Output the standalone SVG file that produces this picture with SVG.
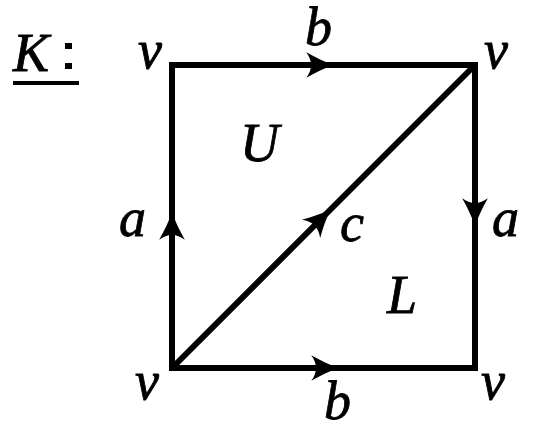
<svg xmlns="http://www.w3.org/2000/svg" width="545" height="439" viewBox="0 0 545 439">
<style>
.lbl{font-family:"Liberation Serif","Times New Roman",serif;font-style:italic;font-size:54px;fill:#000;stroke:#000;stroke-width:0.8}
.edge{fill:none;stroke:#000;stroke-width:6;stroke-linecap:square}
.diag{fill:none;stroke:#000;stroke-width:6;stroke-linecap:butt}
</style>
<defs>
<marker id="ah" markerUnits="userSpaceOnUse" markerWidth="30" markerHeight="30" viewBox="-26 -13 28 26" refX="0" refY="0" orient="auto" overflow="visible">
<path d="M1 0 C-8 -3 -16 -7 -25 -12 C-19 -4 -19 4 -25 12 C-16 7 -8 3 1 0 Z" fill="#000"/>
</marker>
</defs>
<rect width="545" height="439" fill="#fff"/>
<g id="title">
<text class="lbl" x="13" y="71">K</text>
<rect x="65" y="43" width="7" height="6" fill="#000"/>
<rect x="65" y="63" width="7" height="6" fill="#000"/>
<rect x="13" y="81" width="66" height="4" fill="#000"/>
</g>
<g id="connectors">
<path id="edge-a-left" class="edge" d="M172 368 L172 213 L172 65" marker-mid="url(#ah)"/>
<path id="edge-b-top" class="edge" d="M172 65 L333 65 L475 65" marker-mid="url(#ah)"/>
<path id="edge-a-right" class="edge" d="M475 65 L475 225 L475 368" marker-mid="url(#ah)"/>
<path id="edge-b-bottom" class="edge" d="M172 368 L338 368 L475 368" marker-mid="url(#ah)"/>
<path id="edge-c" class="diag" d="M172 368 L330 210 L475 65" marker-mid="url(#ah)"/>
</g>
<g id="edge-labels">
<text class="lbl" x="119" y="236">a</text>
<text class="lbl" x="305" y="45">b</text>
<text class="lbl" x="492" y="236">a</text>
<text class="lbl" x="324" y="419">b</text>
<text class="lbl" x="340" y="241">c</text>
</g>
<g id="v-top-left"><text class="lbl" x="138" y="68">v</text></g>
<g id="v-top-right"><text class="lbl" x="484" y="68">v</text></g>
<g id="v-bottom-left"><text class="lbl" x="135" y="399">v</text></g>
<g id="v-bottom-right"><text class="lbl" x="481" y="399">v</text></g>
<g id="face-U"><text class="lbl" x="240" y="161">U</text></g>
<g id="face-L"><text class="lbl" x="387" y="313">L</text></g>
</svg>
